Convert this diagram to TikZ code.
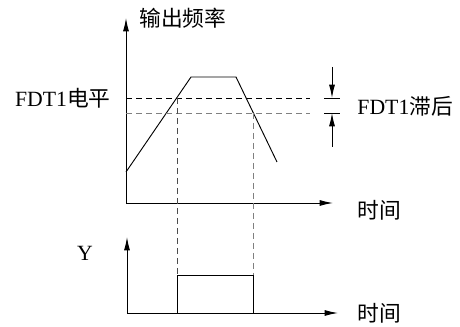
\documentclass[tikz,border=0pt]{standalone}
\usepackage{fontspec}
\setmainfont{Liberation Serif}
\newfontfamily\cjk{Noto Sans CJK SC}
\usetikzlibrary{arrows.meta}

\tikzset{
  livello/.style={dash pattern=on 4.5pt off 3pt},
  lab/.style={inner sep=0pt}
}

\begin{document}
\begin{tikzpicture}[x=0.75pt,y=-0.75pt,line width=0.7pt,
    >={Latex[length=10pt,width=4.5pt]},
    font=\fontsize{16.3}{19}\selectfont]
  \useasboundingbox (0,0) rectangle (460,327);

  % assi
  \coordinate (O1) at (126,203);
  \coordinate (Y1) at (126,18);
  \coordinate (X1) at (333,203);
  \draw[->] (O1) -- (Y1);
  \draw[->] (O1) -- (X1);
  \node[lab,anchor=west] (freq) at (139,18) {\cjk 输出频率};
  \node[lab,anchor=west] (tempo1) at (357,210) {\cjk 时间};

  % curva
  \coordinate (c0) at (126,172);
  \coordinate (c1) at (191,77);
  \coordinate (c2) at (236,77);
  \coordinate (c3) at (277,162);
  \draw (c0) -- (c1) -- (c2) -- (c3);

  % livelli
  \coordinate (L1) at (126,98);
  \coordinate (L1e) at (310,98);
  \coordinate (L2) at (126,113);
  \coordinate (L2e) at (310,113);
  \draw[livello] (L1) -- (L1e);
  \draw[livello,gray] (L2) -- (L2e);
  \node[lab,anchor=east] (fdt) at (111,98) {FDT1\cjk 电平};

  % verticali
  \coordinate (p1) at (177,98);
  \coordinate (p2) at (253,113);
  \coordinate (q1) at (177,275);
  \coordinate (q2) at (253,275);
  \draw[livello,black!70] (p1) -- (q1);
  \draw[livello,gray] (p2) -- (q2);

  % isteresi
  \coordinate (h1) at (332,98);
  \coordinate (h2) at (332,113);
  \coordinate (a1) at (332,67);
  \coordinate (a2) at (332,147);
  \draw ([xshift=-6]h1) -- ([xshift=6]h1);
  \draw ([xshift=-6]h2) -- ([xshift=6]h2);
  \draw[->] (a1) -- (h1);
  \draw[->] (a2) -- (h2);
  \node[lab,anchor=west] (iste) at (357,106) {FDT1\cjk 滞后};

  % uscita Y
  \coordinate (O2) at (127,313);
  \coordinate (Y2) at (127,237);
  \coordinate (X2) at (338,313);
  \draw[->] (O2) -- (Y2);
  \draw[->] (O2) -- (X2);
  \node[lab] (yout) at (85,253) {Y};
  \node[lab,anchor=west] (tempo2) at (357,313) {\cjk 时间};
  \draw (q1 |- O2) -- (q1) -- (q2) -- (q2 |- O2);
\end{tikzpicture}
\end{document}
